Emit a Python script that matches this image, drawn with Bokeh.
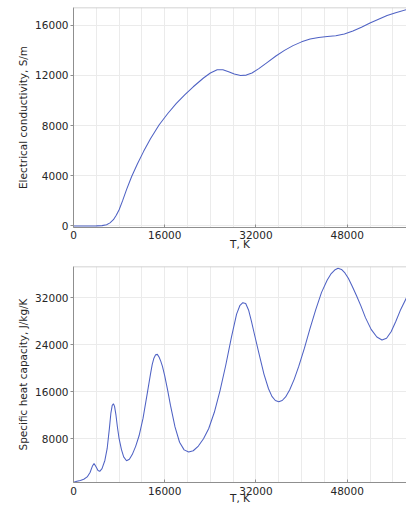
from bokeh.plotting import figure
from bokeh.layouts import column
from bokeh.models import Range1d, FixedTicker, Span
from bokeh.embed import file_html
from bokeh.resources import INLINE

# Electrical conductivity vs temperature
t_sigma = [0, 2000, 4000, 5000, 5800, 6400, 7000, 7500, 8000, 8600, 9300,
           10200, 11200, 12300, 13500, 15000, 16500, 18000, 19500, 21000,
           22800, 24000, 25200, 26200, 27200, 28200, 29300, 30300, 31300,
           32500, 34000, 35500, 37000, 38500, 40000, 41500, 43000, 44500,
           46000, 47500, 49000, 50500, 52000, 53500, 55000, 56500, 58400]
sigma = [0, 0, 10, 30, 100, 250, 500, 850, 1300, 2000, 2900,
         3950, 4950, 5950, 6950, 8050, 8950, 9750, 10450, 11100,
         11800, 12200, 12450, 12450, 12300, 12120, 12000, 12030, 12200,
         12550, 13050, 13550, 14000, 14380, 14680, 14900, 15030, 15100,
         15170, 15300, 15550, 15850, 16180, 16480, 16780, 17000, 17250]

# Specific heat capacity vs temperature
t_cp = [0, 600, 1200, 1800, 2400, 2900, 3300, 3600, 3900, 4300, 4600, 5000,
        5500, 5900, 6300, 6550, 6800, 7000, 7200, 7450, 7700, 8000, 8400,
        8800, 9300, 9800, 10300, 10900, 11500, 12200, 12900, 13500, 13800,
        14100, 14400, 14700, 15000, 15300, 15600, 16000, 16500, 17000, 17800,
        18600, 19400, 20200, 21000, 21900, 22800, 23700, 24700, 25700, 26700,
        27700, 28600, 29200, 29700, 30200, 30700, 31200, 31700, 32500, 33400,
        34200, 34800, 35400, 36000, 36600, 37200, 37900, 38700, 39500, 40500,
        41500, 42500, 43500, 44500, 45200, 45800, 46400, 47000, 47600, 48200,
        48900, 49600, 50400, 51200, 52200, 53200, 54100, 54900, 55700, 56500,
        57300, 58400]
cp = [600, 750, 900, 1100, 1500, 2250, 3300, 3800, 3300, 2600, 2450, 2900,
      4300, 6300, 9800, 12300, 13700, 13950, 13500, 12000, 10000, 8000, 6200,
      4900, 4250, 4500, 5300, 6700, 8500, 11500, 15500, 19000, 20600,
      21700, 22300, 22350, 21900, 21200, 20300, 18700, 16300, 13700, 10000,
      7400, 6100, 5750, 5950, 6750, 8000, 9700, 12500, 16200, 20500,
      25300, 29200, 30700, 31150, 31000, 29900, 28000, 25900, 22600, 19000,
      16500, 15200, 14500, 14300, 14500, 15100, 16300, 18100, 20300, 23400,
      26800, 30000, 32900, 35000, 36100, 36700, 37000, 36800, 36200, 35300,
      33900, 32400, 30600, 28600, 26600, 25300, 24800, 25100, 26200, 27900,
      29800, 32000]

x_ticks = [0, 16000, 32000, 48000]
x_grid = list(range(0, 60001, 4000))
sigma_ticks = [0, 4000, 8000, 12000, 16000]
cp_ticks = [8000, 16000, 24000, 32000]

FONT = "DejaVu Sans"
LINE = "#4f62c4"
TEXT = "#262626"


def make_panel(x, y, y_range, y_ticks, y_label, border_left, border_top,
               border_bottom, x_label_off, x_title_off):
    p = figure(width=406, height=253, output_backend="svg",
               toolbar_location=None,
               x_range=Range1d(0, 58400), y_range=Range1d(*y_range),
               min_border_left=border_left, min_border_right=0,
               min_border_top=border_top, min_border_bottom=border_bottom)
    p.outline_line_color = None
    p.background_fill_color = "white"
    p.border_fill_color = "white"

    p.line(x, y, line_color=LINE, line_width=1.05)

    p.xaxis.ticker = FixedTicker(ticks=x_ticks)
    p.yaxis.ticker = FixedTicker(ticks=y_ticks)
    p.xgrid.ticker = FixedTicker(ticks=x_grid)
    p.xgrid.grid_line_color = "#ebebeb"
    p.ygrid.grid_line_color = "#ebebeb"

    for ax in (p.xaxis[0], p.yaxis[0]):
        ax.axis_line_color = "#8f8f8f"
        ax.major_tick_line_color = "#8f8f8f"
        ax.minor_tick_line_color = None
        ax.major_label_text_font = FONT
        ax.major_label_text_font_size = "10.5px"
        ax.major_label_text_color = TEXT
        ax.axis_label_text_font = FONT
        ax.axis_label_text_font_size = "10.5px"
        ax.axis_label_text_font_style = "normal"
        ax.axis_label_text_color = TEXT

    p.xaxis.major_tick_in = 3
    p.xaxis.major_tick_out = 0
    p.xaxis.major_label_standoff = x_label_off
    p.xaxis.axis_label = "T, K"
    p.xaxis.axis_label_standoff = x_title_off

    p.yaxis.major_tick_in = 0
    p.yaxis.major_tick_out = 3
    p.yaxis.major_label_standoff = 2
    p.yaxis.axis_label = y_label
    p.yaxis.axis_label_standoff = 3

    # light frame edge along the top of the plot area
    p.add_layout(Span(location=y_range[1], dimension="width",
                      line_color="#c4c4c4", line_width=1.5))
    return p


p1 = make_panel(t_sigma, sigma, (-120, 17420), sigma_ticks,
                "Electrical conductivity, S/m", 73, 7, 26, 3, -4)
p2 = make_panel(t_cp, cp, (550, 37300), cp_ticks,
                "Specific heat capacity, J/kg/K", 71, 13, 24, 4, -6)

layout = column(p1, p2, spacing=0)
open("out.html", "w").write(file_html(layout, INLINE))
